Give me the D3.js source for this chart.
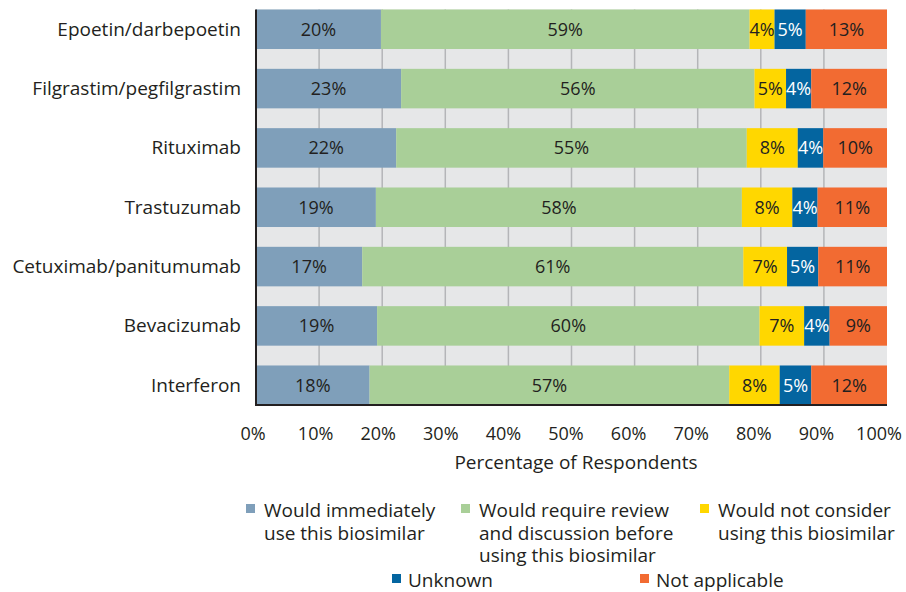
<!DOCTYPE html>
<html>
<head>
<meta charset="utf-8">
<script src="https://cdn.jsdelivr.net/npm/d3@7"></script>
<style>
  body { margin: 0; background: #fff; }
  text { font-family: "Open Sans", sans-serif; fill: #231f20; }
</style>
</head>
<body>
<svg id="chart" width="906" height="592"></svg>
<script>
// data
var drugs = ["Epoetin/darbepoetin", "Filgrastim/pegfilgrastim", "Rituximab", "Trastuzumab",
  "Cetuximab/panitumumab", "Bevacizumab", "Interferon"];
var immediately = [20, 23, 22, 19, 17, 19, 18];
var review = [59, 56, 55, 58, 61, 60, 57];
var notConsider = [4, 5, 8, 8, 7, 7, 8];
var unknown = [5, 4, 4, 4, 5, 4, 5];
var notApplicable = [13, 12, 10, 11, 11, 9, 12];
var seriesKeys = ["immediately", "review", "notConsider", "unknown", "notApplicable"];
var seriesNames = [["Would immediately", "use this biosimilar"],
  ["Would require review", "and discussion before", "using this biosimilar"],
  ["Would not consider", "using this biosimilar"],
  ["Unknown"], ["Not applicable"]];
var tickValues = [0, 0.1, 0.2, 0.3, 0.4, 0.5, 0.6, 0.7, 0.8, 0.9, 1];

var colors = ["#7f9fba", "#a9cf98", "#ffd700", "#0465a0", "#f26b32"];

var rows = drugs.map(function (d, i) {
  return { drug: d, immediately: immediately[i], review: review[i], notConsider: notConsider[i],
    unknown: unknown[i], notApplicable: notApplicable[i] };
});

var svg = d3.select("#chart"),
  pLeft = 256, pRight = 887, pTop = 9.5, pBottom = 405;

var x = d3.scaleLinear().domain([0, 1]).range([pLeft, pRight]);
var y = d3.scaleBand().domain(drugs).range([pTop, pBottom]).paddingInner(0.334).paddingOuter(0);

// stack, each row expanded to 100%
var stacked = d3.stack().keys(seriesKeys).offset(d3.stackOffsetExpand)(rows);

// plot background + gridlines
svg.append("rect").attr("x", pLeft).attr("y", pTop).attr("width", pRight - pLeft).attr("height", pBottom - pTop)
  .attr("fill", "#e6e7e8");
svg.append("g").selectAll("line").data(tickValues.slice(1, -1)).enter().append("line")
  .attr("x1", function (d) { return x(d); }).attr("x2", function (d) { return x(d); })
  .attr("y1", pTop).attr("y2", pBottom)
  .attr("stroke", "#b4b5b8").attr("stroke-width", 1.5);

// bars
var layers = svg.append("g").selectAll("g").data(stacked).enter().append("g")
  .attr("fill", function (d, i) { return colors[i]; });
layers.selectAll("rect").data(function (d) { return d; }).enter().append("rect")
  .attr("x", function (d) { return x(d[0]); })
  .attr("y", function (d) { return y(d.data.drug); })
  .attr("width", function (d) { return x(d[1]) - x(d[0]); })
  .attr("height", y.bandwidth());

// value labels
var labels = svg.append("g").selectAll("g").data(stacked).enter().append("g");
labels.each(function (layer, li) {
  d3.select(this).selectAll("text").data(layer).enter().append("text")
    .attr("x", function (d) { return (x(d[0]) + x(d[1])) / 2; })
    .attr("y", function (d) { return y(d.data.drug) + y.bandwidth() / 2 + 6.5; })
    .attr("text-anchor", "middle")
    .style("font-size", "18px")
    .style("fill", li === 3 ? "#ffffff" : "#231f20")
    .text(function (d) { return d.data[layer.key] + "%"; });
});

// axis lines
svg.append("line").attr("x1", pLeft).attr("x2", pLeft).attr("y1", pTop).attr("y2", pBottom + 1)
  .attr("stroke", "#231f20").attr("stroke-width", 2);
svg.append("line").attr("x1", pLeft).attr("x2", pRight).attr("y1", pBottom).attr("y2", pBottom)
  .attr("stroke", "#231f20").attr("stroke-width", 2);

// category labels
svg.append("g").selectAll("text").data(drugs).enter().append("text")
  .attr("x", 241)
  .attr("y", function (d) { return y(d) + y.bandwidth() / 2 + 6.5; })
  .attr("text-anchor", "end")
  .style("font-size", "19px")
  .text(function (d) { return d; });

// x tick labels
var nudge = d3.scaleLinear().domain([0, 1]).range([-3, -8]);
svg.append("g").selectAll("text").data(tickValues).enter().append("text")
  .attr("x", function (d) { return x(d) + nudge(d); })
  .attr("y", 440)
  .attr("text-anchor", "middle")
  .style("font-size", "18px")
  .text(d3.format(".0%"));

svg.append("text").attr("x", 576).attr("y", 469).attr("text-anchor", "middle")
  .style("font-size", "19px").text("Percentage of Respondents");

// legend
var legendPos = [[246, 504], [461, 504], [700, 504], [392, 574], [640, 574]];
var leg = svg.append("g").selectAll("g").data(seriesNames).enter().append("g")
  .attr("transform", function (d, i) { return "translate(" + legendPos[i][0] + "," + legendPos[i][1] + ")"; });
leg.append("rect").attr("width", 9).attr("height", 9)
  .attr("fill", function (d, i) { return colors[i]; });
leg.append("text").attr("x", 18).attr("y", 13)
  .style("font-size", "19px")
  .selectAll("tspan").data(function (d) { return d; }).enter().append("tspan")
  .attr("x", function (d) { return d === "Unknown" || d === "Not applicable" ? 16 : 18; })
  .attr("dy", function (d, i) { return i ? 22.5 : 0; })
  .text(function (d) { return d; });
</script>
</body>
</html>
